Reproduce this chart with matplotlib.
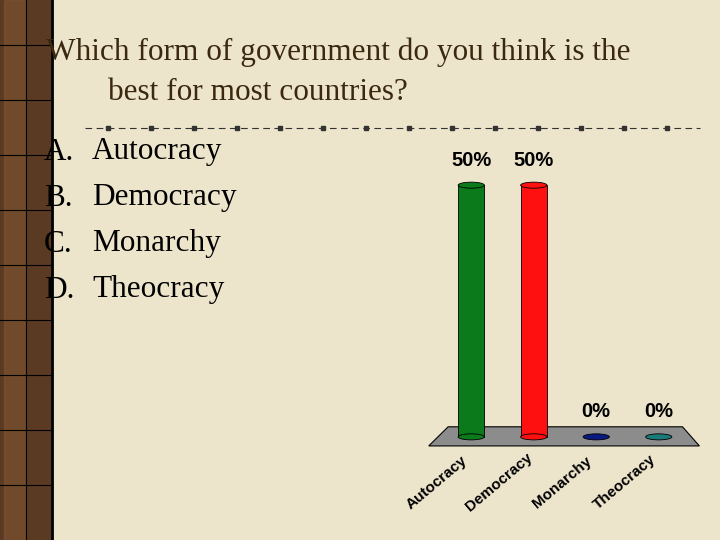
import matplotlib.pyplot as plt
from matplotlib.patches import Rectangle, Ellipse, Polygon
import numpy as np

categories = ["Autocracy", "Democracy", "Monarchy", "Theocracy"]
values = [50, 50, 0, 0]
colors = ["#0a7a1a", "#ff1010", "#0a1a80", "#1a7a78"]
options = ["A.", "B.", "C.", "D."]

fig = plt.figure(figsize=(7.2, 5.4), dpi=100)
fig.patch.set_facecolor("#ede5cb")

# left decorative strip
bg = fig.add_axes([0, 0, 1, 1])
bg.set_xlim(0, 720)
bg.set_ylim(540, 0)
bg.axis("off")
bg.add_patch(Rectangle((0, 0), 52, 540, color="#5a3a22"))
bg.add_patch(Rectangle((4, 0), 22, 540, color="#7a5230", alpha=0.7))
for yy in range(45, 540, 55):
    bg.plot([0, 52], [yy, yy], color="black", lw=0.8)
bg.plot([26, 26], [0, 540], color="black", lw=0.8)
bg.plot([52, 52], [0, 540], color="black", lw=2)

serif = "Liberation Serif"
bg.text(46, 52, "Which form of government do you think is the", fontsize=22.5,
        family=serif, color="#3a2810", va="center")
bg.text(108, 92, "best for most countries?", fontsize=22.5,
        family=serif, color="#3a2810", va="center")
bg.plot([85, 700], [128, 128], color="#333333", lw=0.8, dashes=(6, 4))
for xx in np.arange(108, 700, 43):
    bg.plot(xx, 128, marker="s", ms=3, color="#333333")
for i, (o, c) in enumerate(zip(options, categories)):
    y = 152 + i * 46
    bg.text(44, y, o, fontsize=22.5, family=serif, va="center")
    bg.text(92, y, c, fontsize=22.5, family=serif, va="center")

# chart
ax = fig.add_axes([440 / 720, 83 / 540, 250 / 720, 297 / 540])
ax.set_xlim(-0.5, 3.5)
ax.set_ylim(-4, 55)
ax.axis("off")
ax.add_patch(Polygon([(-0.68, -1.8), (3.65, -1.8), (3.38, 2), (-0.37, 2)],
                     closed=True, facecolor="#8c8c8c", edgecolor="black", lw=0.8,
                     clip_on=False))
w = 0.42
for i, (v, c) in enumerate(zip(values, colors)):
    if v > 0:
        ax.bar(i, v, width=w, color=c, edgecolor="black", lw=0.6, clip_on=False)
        ax.add_patch(Ellipse((i, v), w, 1.2, facecolor=c, edgecolor="black",
                             lw=0.6, clip_on=False))
    ax.add_patch(Ellipse((i, 0), w, 1.2, facecolor=c, edgecolor="black",
                         lw=0.6, clip_on=False))
    ax.text(i, v + 5, f"{v}%", ha="center", va="center", fontsize=14.5,
            fontweight="bold", family="Liberation Sans")
    ax.text(i - 0.55, -9, categories[i], ha="center", va="center", rotation=40,
            fontsize=11, fontweight="bold", family="Liberation Sans", clip_on=False)

fig.savefig("out.png", dpi=100, facecolor=fig.get_facecolor())
